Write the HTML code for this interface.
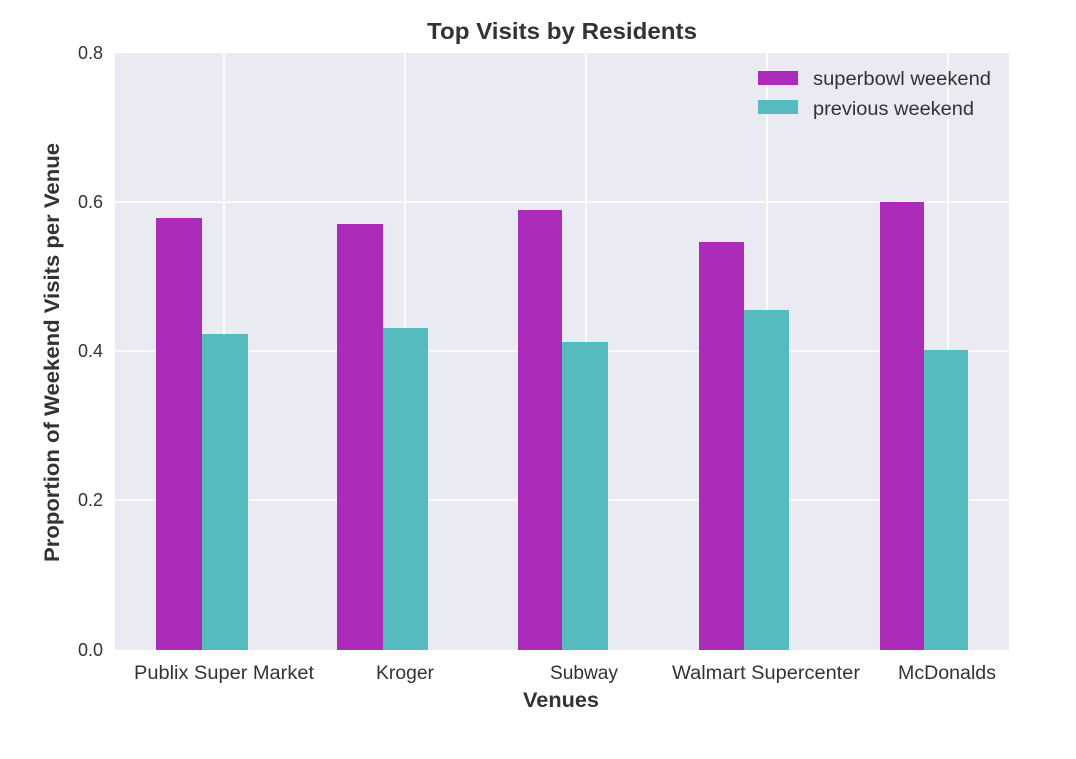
<!DOCTYPE html>
<html><head><meta charset="utf-8"><style>
body{margin:0;background:#fff;}
svg text{font-family:"Liberation Sans",sans-serif;fill:#333;}
</style></head><body>
<svg width="1076" height="754" xmlns="http://www.w3.org/2000/svg">
<rect x="0" y="0" width="1076" height="754" fill="#fff"/>
<rect x="115" y="53" width="894" height="597" fill="#EAEAF2"/>
<g stroke="#fff" stroke-width="1.6">
<line x1="115" x2="1009" y1="202" y2="202"/>
<line x1="115" x2="1009" y1="351" y2="351"/>
<line x1="115" x2="1009" y1="500" y2="500"/>
<line x1="224" x2="224" y1="53" y2="650"/>
<line x1="405" x2="405" y1="53" y2="650"/>
<line x1="586" x2="586" y1="53" y2="650"/>
<line x1="767" x2="767" y1="53" y2="650"/>
<line x1="948" x2="948" y1="53" y2="650"/>
</g>
<g fill="#AC2BB9">
<rect x="156" y="218" width="46" height="432"/>
<rect x="337" y="224" width="46" height="426"/>
<rect x="518" y="210" width="44" height="440"/>
<rect x="699" y="242" width="45" height="408"/>
<rect x="880" y="202" width="44" height="448"/>
</g>
<g fill="#55BBBF">
<rect x="202" y="334" width="46" height="316"/>
<rect x="383" y="328" width="45" height="322"/>
<rect x="562" y="342" width="46" height="308"/>
<rect x="744" y="310" width="45" height="340"/>
<rect x="924" y="350" width="44" height="300"/>
</g>
<rect x="758" y="71" width="40" height="14" fill="#AC2BB9"/>
<rect x="758" y="100" width="40" height="14" fill="#55BBBF"/>
<text x="813" y="85" font-size="19" textLength="178" lengthAdjust="spacingAndGlyphs">superbowl weekend</text>
<text x="813" y="115" font-size="19" textLength="161" lengthAdjust="spacingAndGlyphs">previous weekend</text>
<g font-size="18" text-anchor="end">
<text x="103" y="59">0.8</text>
<text x="103" y="208">0.6</text>
<text x="103" y="357">0.4</text>
<text x="103" y="506">0.2</text>
<text x="103" y="656">0.0</text>
</g>
<g font-size="19">
<text x="134" y="679" textLength="180" lengthAdjust="spacingAndGlyphs">Publix Super Market</text>
<text x="376" y="679" textLength="58" lengthAdjust="spacingAndGlyphs">Kroger</text>
<text x="550" y="679" textLength="68" lengthAdjust="spacingAndGlyphs">Subway</text>
<text x="672" y="679" textLength="188" lengthAdjust="spacingAndGlyphs">Walmart Supercenter</text>
<text x="898" y="679" textLength="98" lengthAdjust="spacingAndGlyphs">McDonalds</text>
</g>
<text x="523" y="707" font-size="21" font-weight="bold" textLength="76" lengthAdjust="spacingAndGlyphs">Venues</text>
<text x="427" y="39" font-size="23" font-weight="bold" textLength="270" lengthAdjust="spacingAndGlyphs">Top Visits by Residents</text>
<text transform="translate(59,562) rotate(-90)" font-size="21" font-weight="bold" textLength="419" lengthAdjust="spacingAndGlyphs">Proportion of Weekend Visits per Venue</text>
</svg>
</body></html>
